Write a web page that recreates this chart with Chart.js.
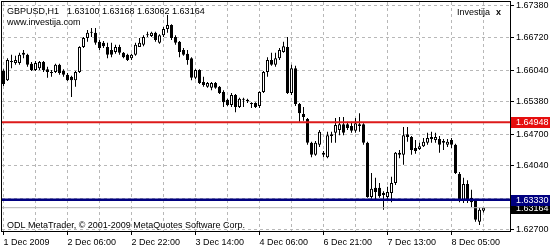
<!DOCTYPE html>
<html>
<head>
<meta charset="utf-8">
<script src="https://cdn.jsdelivr.net/npm/chart.js@4.4.1/dist/chart.umd.min.js"></script>
<style>
  html, body { margin: 0; padding: 0; background: #fff; }
  #chart { display: block; }
</style>
</head>
<body>
<canvas id="chart" width="550" height="250"></canvas>
<script>
const symbol = 'GBPUSD,H1';

// hourly bars, 1 Dec 2009 14:00 .. 8 Dec 2009 06:00
const opens = [
  1.6602, 1.6583, 1.6621, 1.6619, 1.6619, 1.6636, 1.6636, 1.6617, 1.6604, 1.6608,
  1.6621, 1.6606, 1.6600, 1.6600, 1.6615, 1.6602, 1.6594, 1.6590, 1.6583, 1.6600,
  1.6652, 1.6671, 1.6682, 1.6682, 1.6663, 1.6661, 1.6652, 1.6646, 1.6642, 1.6652,
  1.6640, 1.6636, 1.6629, 1.6636, 1.6652, 1.6657, 1.6677, 1.6675, 1.6682, 1.6661,
  1.6677, 1.6690, 1.6698, 1.6673, 1.6663, 1.6646, 1.6638, 1.6629, 1.6588, 1.6604,
  1.6579, 1.6569, 1.6567, 1.6577, 1.6569, 1.6558, 1.6542, 1.6531, 1.6552, 1.6527,
  1.6542, 1.6539, 1.6535, 1.6535, 1.6529, 1.6558, 1.6600, 1.6625, 1.6615, 1.6629,
  1.6642, 1.6652, 1.6556, 1.6608, 1.6533, 1.6512, 1.6502, 1.6452, 1.6427, 1.6448,
  1.6431, 1.6422, 1.6466, 1.6473, 1.6479, 1.6491, 1.6491, 1.6487, 1.6477, 1.6487,
  1.6491, 1.6452, 1.6339, 1.6358, 1.6358, 1.6347, 1.6339, 1.6347, 1.6368, 1.6427,
  1.6427, 1.6470, 1.6464, 1.6441, 1.6439, 1.6445, 1.6452, 1.6464, 1.6458, 1.6460,
  1.6456, 1.6448, 1.6458, 1.6448, 1.6387, 1.6333, 1.6366, 1.6337, 1.6333, 1.6287,
  1.63100
];
const highs = [
  1.6606, 1.6629, 1.6636, 1.6634, 1.6640, 1.6646, 1.6638, 1.6621, 1.6623, 1.6623,
  1.6623, 1.6611, 1.6604, 1.6617, 1.6617, 1.6606, 1.6598, 1.6592, 1.6602, 1.6654,
  1.6673, 1.6688, 1.6692, 1.6692, 1.6667, 1.6665, 1.6661, 1.6661, 1.6657, 1.6657,
  1.6642, 1.6638, 1.6638, 1.6661, 1.6671, 1.6677, 1.6684, 1.6684, 1.6684, 1.6679,
  1.6694, 1.6719, 1.6700, 1.6677, 1.6665, 1.6650, 1.6646, 1.6631, 1.6606, 1.6606,
  1.6590, 1.6579, 1.6579, 1.6579, 1.6571, 1.6562, 1.6544, 1.6556, 1.6554, 1.6546,
  1.6546, 1.6544, 1.6537, 1.6537, 1.6560, 1.6602, 1.6631, 1.6640, 1.6640, 1.6650,
  1.6663, 1.6673, 1.6615, 1.6613, 1.6535, 1.6527, 1.6504, 1.6454, 1.6456, 1.6479,
  1.6435, 1.6475, 1.6475, 1.6504, 1.6506, 1.6506, 1.6496, 1.6496, 1.6504, 1.6514,
  1.6493, 1.6454, 1.6389, 1.6379, 1.6368, 1.6351, 1.6360, 1.6381, 1.6433, 1.6437,
  1.6485, 1.6485, 1.6466, 1.6458, 1.6452, 1.6462, 1.6473, 1.6475, 1.6473, 1.6466,
  1.6460, 1.6460, 1.6462, 1.6450, 1.6391, 1.6379, 1.6374, 1.6354, 1.6335, 1.6316,
  1.63168
];
const lows = [
  1.6571, 1.6581, 1.6608, 1.6615, 1.6615, 1.6629, 1.6611, 1.6602, 1.6602, 1.6604,
  1.6600, 1.6588, 1.6590, 1.6598, 1.6594, 1.6590, 1.6581, 1.6548, 1.6569, 1.6598,
  1.6650, 1.6663, 1.6673, 1.6657, 1.6646, 1.6650, 1.6629, 1.6631, 1.6638, 1.6636,
  1.6629, 1.6623, 1.6625, 1.6634, 1.6652, 1.6654, 1.6673, 1.6673, 1.6663, 1.6659,
  1.6673, 1.6682, 1.6667, 1.6657, 1.6631, 1.6634, 1.6615, 1.6583, 1.6585, 1.6575,
  1.6569, 1.6567, 1.6562, 1.6565, 1.6554, 1.6527, 1.6529, 1.6527, 1.6516, 1.6525,
  1.6527, 1.6535, 1.6525, 1.6525, 1.6525, 1.6556, 1.6590, 1.6613, 1.6611, 1.6625,
  1.6640, 1.6554, 1.6552, 1.6529, 1.6496, 1.6498, 1.6448, 1.6422, 1.6425, 1.6443,
  1.6422, 1.6420, 1.6452, 1.6452, 1.6468, 1.6468, 1.6479, 1.6473, 1.6473, 1.6475,
  1.6448, 1.6337, 1.6335, 1.6333, 1.6337, 1.6312, 1.6333, 1.6328, 1.6364, 1.6420,
  1.6406, 1.6454, 1.6427, 1.6429, 1.6437, 1.6443, 1.6448, 1.6452, 1.6452, 1.6431,
  1.6437, 1.6443, 1.6441, 1.6387, 1.6328, 1.6326, 1.6326, 1.6318, 1.6287, 1.6280,
  1.63062
];
const closes = [
  1.6575, 1.6625, 1.6623, 1.6625, 1.6636, 1.6640, 1.6615, 1.6604, 1.6619, 1.6621,
  1.6604, 1.6600, 1.6598, 1.6615, 1.6598, 1.6594, 1.6583, 1.6583, 1.6600, 1.6652,
  1.6671, 1.6682, 1.6684, 1.6661, 1.6650, 1.6654, 1.6636, 1.6636, 1.6652, 1.6640,
  1.6631, 1.6625, 1.6636, 1.6657, 1.6661, 1.6673, 1.6679, 1.6682, 1.6667, 1.6677,
  1.6690, 1.6698, 1.6671, 1.6661, 1.6642, 1.6636, 1.6625, 1.6588, 1.6604, 1.6577,
  1.6573, 1.6577, 1.6577, 1.6567, 1.6556, 1.6537, 1.6531, 1.6552, 1.6527, 1.6544,
  1.6544, 1.6542, 1.6533, 1.6527, 1.6558, 1.6600, 1.6625, 1.6615, 1.6629, 1.6646,
  1.6654, 1.6556, 1.6608, 1.6533, 1.6514, 1.6506, 1.6452, 1.6427, 1.6452, 1.6475,
  1.6427, 1.6468, 1.6470, 1.6489, 1.6491, 1.6473, 1.6483, 1.6477, 1.6493, 1.6491,
  1.6452, 1.6339, 1.6356, 1.6349, 1.6341, 1.6343, 1.6349, 1.6368, 1.6431, 1.6431,
  1.6468, 1.6464, 1.6437, 1.6435, 1.6445, 1.6454, 1.6462, 1.6460, 1.6464, 1.6448,
  1.6452, 1.6454, 1.6448, 1.6389, 1.6333, 1.6366, 1.6333, 1.6328, 1.6291, 1.6312,
  1.63164
];

// one time label every 16 bars, dashed grid every 8 bars
const timeLabels = ['1 Dec 2009', '2 Dec 06:00', '2 Dec 22:00', '3 Dec 14:00',
                    '4 Dec 06:00', '6 Dec 21:00', '7 Dec 13:00', '8 Dec 05:00'];
const labelEvery = 16;
const gridEvery = 8;
const priceTicks = [1.6738, 1.6672, 1.6604, 1.6538, 1.6470, 1.6404, 1.6336, 1.6270];

const resistance = 1.64948;
const support = 1.63330;
const bid = 1.63164;

const FONT = "'Liberation Sans', Arial, sans-serif";
Chart.defaults.font.family = FONT;
Chart.defaults.font.size = 9;
Chart.defaults.color = '#000';

const idx = opens.map((_, i) => i);
const bodyData = idx.map(i => ({ x: i, y: [opens[i], closes[i]] }));
const wickData = idx.map(i => ({ x: i, y: [lows[i], highs[i]] }));
const bodyFill = idx.map(i => closes[i] >= opens[i] ? '#ffffff' : '#000000');

const mt4Overlay = {
  id: 'mt4Overlay',
  afterDraw(chart) {
    const { ctx, chartArea: a, scales: { y } } = chart;
    ctx.save();

    // horizontal lines
    function hline(v, color, w) {
      const py = y.getPixelForValue(v);
      ctx.strokeStyle = color;
      ctx.lineWidth = w;
      ctx.beginPath();
      ctx.moveTo(a.left, py);
      ctx.lineTo(a.right, py);
      ctx.stroke();
    }
    hline(bid, '#b4b4b4', 1);
    hline(resistance, '#dd1a1a', 2);
    hline(support, '#000080', 2.5);

    // frame
    ctx.strokeStyle = '#000';
    ctx.lineWidth = 1;
    ctx.strokeRect(a.left - 0.5, a.top - 0.5, a.right - a.left + 1, a.bottom - a.top + 1);

    // price boxes on the axis
    ctx.font = '9px ' + FONT;
    ctx.textBaseline = 'middle';
    function box(v, bg) {
      const py = Math.round(y.getPixelForValue(v));
      ctx.fillStyle = bg;
      ctx.fillRect(a.right + 1, py - 5, chart.width - a.right - 1, 11);
      ctx.fillStyle = '#fff';
      ctx.fillText(v.toFixed(5), a.right + 6, py + 1);
    }
    box(bid, '#000000');
    box(support, '#000080');
    box(resistance, '#e60e0e');

    // texts
    const last = opens.length - 1;
    ctx.fillStyle = '#000';
    ctx.textBaseline = 'alphabetic';
    ctx.fillText(symbol, 7, 14);
    const ohlc = [opens[last], highs[last], lows[last], closes[last]].map(v => v.toFixed(5)).join(' ');
    ctx.fillText(ohlc, 7 + ctx.measureText(symbol).width + 8, 14);
    ctx.fillText('www.investija.com', 7, 25);
    ctx.fillText('ODL MetaTrader, \u00a9 2001-2009 MetaQuotes Software Corp.', 7, 228);
    ctx.fillText('Investija', 457, 15);
    ctx.font = 'bold 9px ' + FONT;
    ctx.fillText('x', 496, 15);
    ctx.restore();
  }
};

new Chart(document.getElementById('chart'), {
  type: 'bar',
  data: {
    datasets: [
      { data: bodyData, backgroundColor: bodyFill, borderColor: '#000', borderWidth: 1,
        borderSkipped: false, barThickness: 3, minBarLength: 1, inflateAmount: 0, grouped: false },
      { data: wickData, backgroundColor: '#000', borderWidth: 0,
        barThickness: 1, inflateAmount: 0, grouped: false }
    ]
  },
  options: {
    responsive: false,
    animation: false,
    devicePixelRatio: 1,
    layout: { padding: { left: 2, top: 2, right: 0, bottom: 0 } },
    plugins: { legend: { display: false }, tooltip: { enabled: false } },
    scales: {
      x: {
        type: 'linear',
        offset: false,
        min: -0.375,
        max: 126.625,
        afterBuildTicks: s => {
          s.ticks = idx.filter(i => i % gridEvery === 0).map(v => ({ value: v }));
        },
        afterFit: s => { s.height = 19; s.paddingLeft = 0; s.paddingRight = 0; },
        ticks: {
          autoSkip: false, maxRotation: 0, minRotation: 0, align: 'start', padding: 2,
          font: { size: 9 },
          callback: v => v % labelEvery === 0 ? timeLabels[v / labelEvery] : ''
        },
        grid: {
          offset: false,
          color: '#b8b8b8',
          tickLength: 4,
          tickColor: c => (c.tick && c.tick.value % labelEvery === 0) ? '#000' : 'rgba(0,0,0,0)'
        },
        border: { display: false, dash: [3, 3] }
      },
      y: {
        position: 'right',
        min: 1.62677,
        max: 1.67463,
        afterBuildTicks: s => { s.ticks = priceTicks.map(v => ({ value: v })); },
        afterFit: s => { s.width = 40; s.paddingTop = 0; s.paddingBottom = 0; },
        ticks: {
          autoSkip: false, padding: 2, crossAlign: 'near',
          font: { size: 9 },
          callback: v => v.toFixed(5)
        },
        grid: { color: '#b8b8b8', tickLength: 4, tickColor: '#000' },
        border: { display: false, dash: [3, 3] }
      }
    }
  },
  plugins: [mt4Overlay]
});
</script>
</body>
</html>
